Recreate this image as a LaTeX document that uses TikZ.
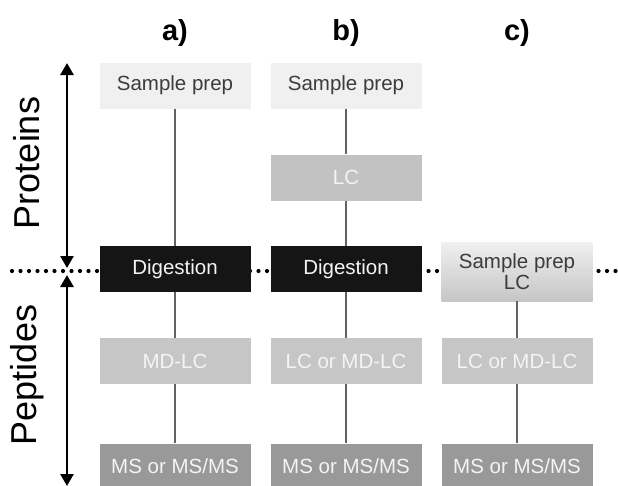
\documentclass[tikz,border=0pt]{standalone}
\usepackage{fontspec}
\setmainfont{Liberation Sans}
\usetikzlibrary{arrows.meta}
\definecolor{prepc}{HTML}{F0F0F0}
\definecolor{prept}{HTML}{3C3C3C}
\definecolor{lcc}{HTML}{C2C2C2}
\definecolor{digc}{HTML}{151515}
\definecolor{mdc}{HTML}{C6C6C6}
\definecolor{msc}{HTML}{999999}
\definecolor{lightt}{HTML}{F4F4F4}
\definecolor{connc}{HTML}{626262}
\begin{document}
\begin{tikzpicture}[x=1pt,y=-1pt,
  box/.style={rectangle, minimum width=151pt, minimum height=46pt, inner sep=0pt,
    font=\fontsize{20.5}{23}\selectfont},
  prepbox/.style={box, fill=prepc, text=prept},
  lcbox/.style={box, fill=lcc, text=lightt},
  digbox/.style={box, fill=digc, text=lightt},
  mdbox/.style={box, fill=mdc, text=lightt},
  msbox/.style={box, fill=msc, text=lightt},
  mixbox/.style={box, minimum height=59pt, top color=prepc, bottom color=mdc, text=prept, align=center,
    font=\fontsize{20.5}{21}\selectfont},
  conn/.style={draw=connc, line width=2.3pt},
  arr/.style={line width=2.6pt, {Triangle[length=12pt,width=13pt]}-{Triangle[length=12pt,width=13pt]}},
  head/.style={font=\bfseries\fontsize{29}{32}\selectfont},
  side/.style={rotate=90, font=\fontsize{36}{40}\selectfont},
  dots/.style={line width=4.2pt, line cap=round, dash pattern=on 0pt off 8.5pt}
]
\useasboundingbox (0,0) rectangle (618,485);
\fill[white] (0,0) rectangle (618,485);

% dotted separator
\coordinate (dl) at (12,271);
\coordinate (dr) at (618,271);
\draw[dots] (dl) -- (dr);

% headers
\node[head] (ha) at (175,33) {a)};
\node[head] (hb) at (346,33) {b)};
\node[head] (hc) at (517,33) {c)};

% side labels and arrows
\node[side] (prot) at (27,163) {Proteins};
\node[side] (pept) at (27,375) {Peptides};
\coordinate (p1) at (67,63);
\coordinate (p2) at (67,268);
\coordinate (p3) at (67,275);
\coordinate (p4) at (67,486);
\draw[arr] (p1) -- (p2);
\draw[arr] (p3) -- (p4);

% column a
\node[prepbox] (spa) at (175,85.5) {Sample prep};
\node[digbox] (diga) at (175,269) {Digestion};
\node[mdbox] (mda) at (175,361) {MD-LC};
\node[msbox] (msa) at (175,466.5) {MS or MS/MS};

% column b
\node[prepbox] (spb) at (346,85.5) {Sample prep};
\node[lcbox] (lcb) at (346,177.5) {LC};
\node[digbox] (digb) at (346,269) {Digestion};
\node[mdbox] (mdb) at (346,361) {LC or MD-LC};
\node[msbox] (msb) at (346,466.5) {MS or MS/MS};

% column c
\node[mixbox] (spc) at (517,271.5) {Sample prep\\LC};
\node[mdbox] (mdcc) at (517,361) {LC or MD-LC};
\node[msbox] (msc) at (517,466.5) {MS or MS/MS};

% connectors
\draw[conn] (spa) -- (diga);
\draw[conn] (diga) -- (mda);
\draw[conn] (mda) -- (msa);
\draw[conn] (spb) -- (lcb);
\draw[conn] (lcb) -- (digb);
\draw[conn] (digb) -- (mdb);
\draw[conn] (mdb) -- (msb);
\draw[conn] (spc) -- (mdcc);
\draw[conn] (mdcc) -- (msc);
\end{tikzpicture}
\end{document}
